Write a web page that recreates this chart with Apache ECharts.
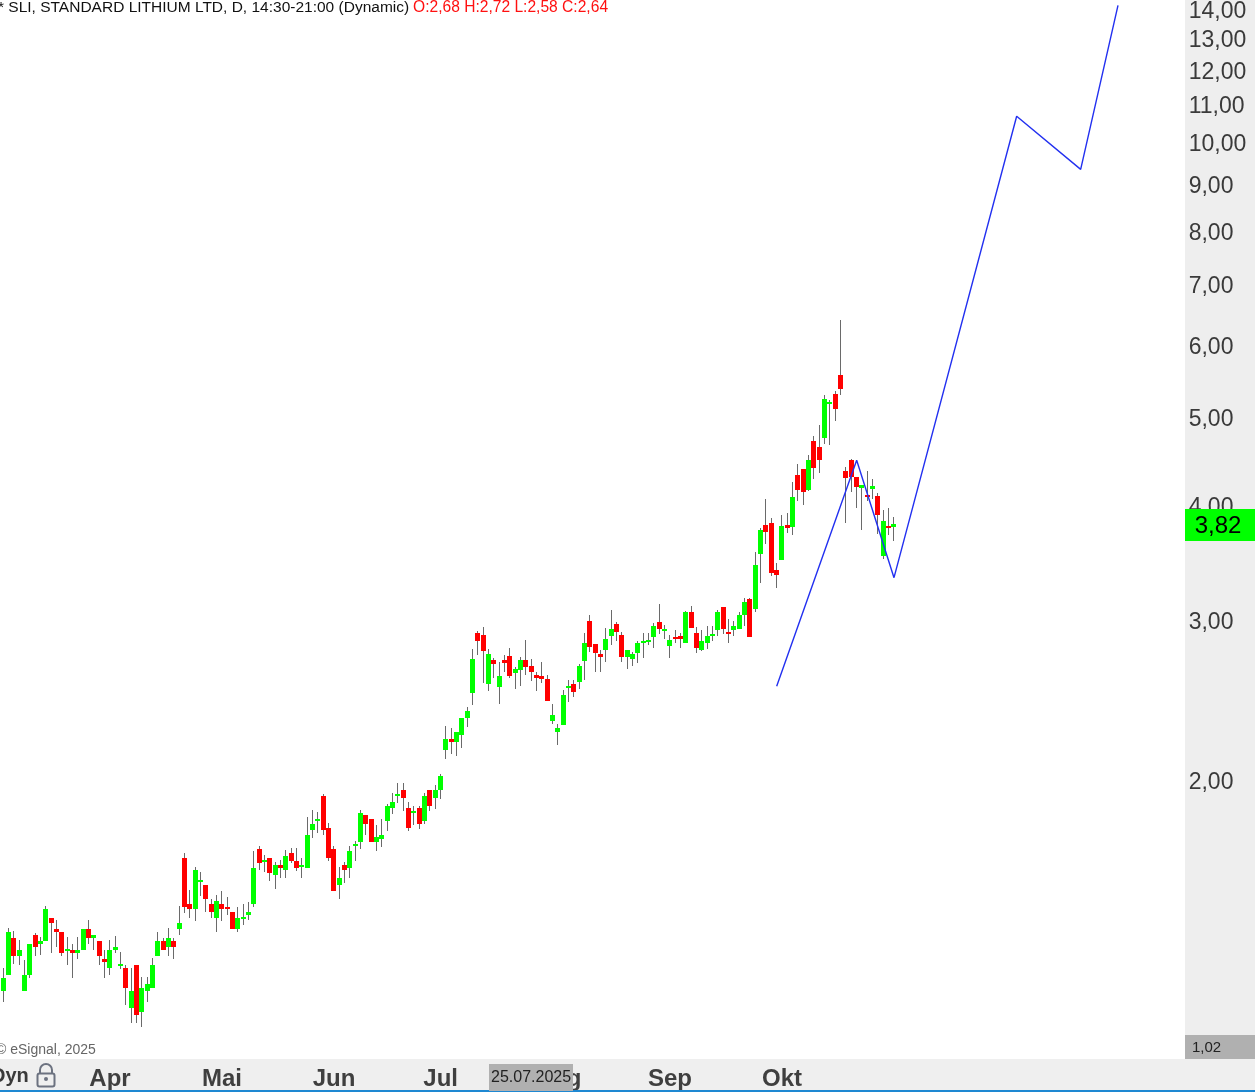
<!DOCTYPE html>
<html><head><meta charset="utf-8">
<style>html,body{margin:0;padding:0;background:#fff;overflow:hidden}#c{width:1255px;height:1092px}</style>
<script src="https://cdn.jsdelivr.net/npm/echarts@6/dist/echarts.min.js"></script>
</head><body><div id="c"></div>
<script>
const opens=[1.296,1.178,1.226,1.346,1.287,1.178,1.226,1.356,1.326,1.336,1.416,1.377,1.367,1.303,1.306,1.296,1.306,1.377,1.346,1.336,1.277,1.248,1.306,1.254,1.248,1.128,1.258,1.117,1.178,1.187,1.287,1.336,1.316,1.336,1.377,1.647,1.467,1.448,1.550,1.538,1.467,1.416,1.467,1.455,1.437,1.377,1.412,1.426,1.467,1.685,1.631,1.647,1.578,1.618,1.598,1.668,1.635,1.610,1.606,1.767,1.808,1.925,1.776,1.685,1.538,1.618,1.606,1.697,1.715,1.835,1.817,1.715,1.728,1.808,1.868,1.925,1.955,1.868,1.845,1.868,1.808,1.955,1.916,1.955,2.163,2.223,2.207,2.246,2.344,2.497,2.904,2.890,2.554,2.713,2.535,2.713,2.740,2.625,2.646,2.713,2.673,2.612,2.606,2.586,2.327,2.263,2.304,2.528,2.554,2.567,2.706,2.994,2.825,2.754,2.783,2.883,2.971,2.890,2.733,2.720,2.761,2.832,2.839,2.876,2.986,2.919,2.811,2.876,2.883,2.832,3.062,2.904,2.783,2.832,2.883,2.926,3.101,2.912,2.926,2.934,3.039,3.164,3.085,3.544,3.813,3.832,3.404,3.491,3.813,3.794,4.325,4.391,4.165,4.712,4.641,4.748,5.172,5.304,5.565,4.369,4.492,4.304,4.186,4.112,4.175,4.102,3.525,3.803,3.794];
const highs=[1.316,1.248,1.381,1.370,1.339,1.274,1.326,1.363,1.349,1.459,1.416,1.409,1.367,1.349,1.326,1.349,1.377,1.409,1.356,1.336,1.306,1.339,1.353,1.300,1.258,1.248,1.258,1.220,1.220,1.280,1.367,1.346,1.381,1.346,1.459,1.668,1.519,1.610,1.590,1.538,1.485,1.500,1.515,1.493,1.437,1.455,1.467,1.474,1.676,1.697,1.660,1.647,1.631,1.639,1.680,1.689,1.689,1.647,1.826,1.859,1.849,1.935,1.799,1.697,1.610,1.631,1.697,1.719,1.859,1.835,1.817,1.790,1.817,1.887,1.940,1.990,1.990,1.897,1.878,1.878,1.940,1.955,1.980,2.035,2.298,2.286,2.263,2.344,2.410,2.790,2.919,2.949,2.790,2.727,2.700,2.747,2.797,2.666,2.733,2.854,2.720,2.632,2.700,2.612,2.429,2.310,2.516,2.580,2.580,2.686,2.904,3.039,2.825,2.783,2.941,3.078,2.986,2.912,2.783,2.768,2.846,2.904,2.904,2.979,3.124,2.964,2.890,2.926,2.904,3.070,3.109,2.949,2.926,2.956,2.956,3.078,3.101,3.009,2.994,3.062,3.173,3.173,3.562,3.784,4.071,3.881,3.464,3.910,3.930,4.249,4.446,4.391,4.548,4.772,4.906,5.291,5.225,5.344,6.393,4.413,4.503,4.304,4.218,4.369,4.282,4.133,3.960,3.980,3.890];
const lows=[1.190,1.145,1.226,1.261,1.258,1.178,1.217,1.287,1.290,1.336,1.296,1.316,1.287,1.258,1.217,1.277,1.306,1.326,1.306,1.258,1.217,1.226,1.296,1.245,1.137,1.087,1.087,1.076,1.145,1.187,1.287,1.306,1.287,1.277,1.356,1.433,1.416,1.405,1.496,1.437,1.416,1.367,1.405,1.426,1.377,1.367,1.391,1.409,1.455,1.598,1.590,1.554,1.523,1.566,1.566,1.626,1.594,1.566,1.606,1.732,1.754,1.745,1.635,1.515,1.485,1.546,1.566,1.635,1.685,1.745,1.715,1.676,1.693,1.763,1.840,1.892,1.854,1.763,1.790,1.772,1.794,1.854,1.863,1.911,2.114,2.141,2.130,2.174,2.292,2.423,2.747,2.560,2.509,2.593,2.429,2.632,2.593,2.522,2.541,2.612,2.573,2.509,2.560,2.447,2.310,2.190,2.304,2.441,2.472,2.522,2.580,2.768,2.632,2.632,2.700,2.818,2.846,2.700,2.652,2.673,2.693,2.727,2.818,2.797,2.897,2.861,2.727,2.832,2.797,2.832,2.941,2.761,2.775,2.790,2.846,2.883,2.897,2.832,2.883,2.934,2.956,2.876,3.062,3.294,3.634,3.353,3.253,3.491,3.737,3.719,4.050,4.009,4.154,4.282,4.346,4.677,4.665,4.955,5.291,3.832,4.144,3.980,3.765,4.050,4.071,3.728,3.500,3.719,3.662];
const closes=[1.199,1.217,1.367,1.287,1.306,1.226,1.326,1.316,1.336,1.448,1.398,1.367,1.296,1.309,1.296,1.306,1.377,1.346,1.356,1.287,1.267,1.306,1.316,1.261,1.187,1.178,1.108,1.187,1.199,1.258,1.336,1.306,1.346,1.316,1.398,1.455,1.448,1.598,1.558,1.485,1.437,1.478,1.448,1.448,1.377,1.416,1.419,1.437,1.606,1.626,1.639,1.586,1.618,1.606,1.655,1.635,1.606,1.618,1.745,1.794,1.817,1.767,1.647,1.515,1.566,1.598,1.676,1.706,1.845,1.794,1.715,1.736,1.745,1.878,1.897,1.935,1.916,1.776,1.854,1.794,1.925,1.878,1.955,2.025,2.223,2.207,2.263,2.344,2.386,2.720,2.846,2.775,2.754,2.686,2.606,2.693,2.606,2.652,2.713,2.666,2.632,2.593,2.586,2.447,2.362,2.286,2.484,2.541,2.503,2.673,2.832,2.804,2.761,2.733,2.861,2.934,2.912,2.733,2.783,2.754,2.832,2.846,2.854,2.956,2.934,2.934,2.854,2.861,2.861,3.062,2.941,2.797,2.846,2.883,2.897,3.062,2.934,2.897,2.956,3.039,3.140,2.876,3.447,3.765,3.746,3.378,3.361,3.803,3.784,4.092,4.165,4.144,4.492,4.402,4.492,5.238,5.198,5.108,5.372,4.293,4.304,4.197,4.218,4.092,4.207,3.910,3.851,3.784,3.82];
const monthLabels=['Apr','Mai','Jun','Jul','Aug','Sep','Okt'];
const monthSlots=[21,42,63,83,105,126,147];
const priceTicks=[14,13,12,11,10,9,8,7,6,5,4,3,2];
const forecastX=[146,161,168,191,203,210];
const forecastY=[2.54,4.49,3.34,10.69,9.35,14.14];
const lastClose=3.82, axisLow=1.02, slotCount=223;

const categories=[];
for(let i=0;i<slotCount;i++){const m=monthSlots.indexOf(i);categories.push(m>=0?monthLabels[m]:'');}
const fmt=v=>Number(v).toFixed(2).replace('.',',');
const UP='#00ff00',DOWN='#ff0000',WICK='#6a6a6a',FONT='"Liberation Sans",Arial,sans-serif';
const candles=opens.map((o,i)=>[i,o,highs[i],lows[i],closes[i]]);

const chart=echarts.init(document.getElementById('c'),null,{renderer:'canvas'});
chart.setOption({
 animation:false,
 backgroundColor:'#fff',
 grid:{left:-4.667,width:1189.333,top:0,height:1059,containLabel:false,outerBoundsMode:'none'},
 xAxis:{type:'category',data:categories,boundaryGap:true,
  axisLine:{show:false},axisTick:{show:false},splitLine:{show:false},
  axisLabel:{interval:(i)=>monthSlots.includes(i),margin:8,hideOverlap:false,
   fontFamily:FONT,fontSize:24,fontWeight:'bold',color:'#3f3f3f'}},
 yAxis:{type:'log',position:'right',min:0.9925,max:14.33,
  axisLine:{show:false},axisTick:{show:false},splitLine:{show:false},minorTick:{show:false},
  axisLabel:{customValues:priceTicks,formatter:fmt,margin:4,verticalAlign:'top',lineHeight:4,fontFamily:FONT,fontSize:23,color:'#3a3a3a',hideOverlap:false,showMinLabel:true,showMaxLabel:true}},
 series:[
  {type:'custom',name:'SLI',coordinateSystem:'cartesian2d',encode:{x:0,y:[1,2,3,4]},data:candles,z:3,silent:true,
   renderItem(p,api){
    const i=api.value(0),o=api.value(1),h=api.value(2),l=api.value(3),c=api.value(4);
    const cx=api.coord([i,o])[0];
    const yo=Math.round(api.coord([i,o])[1]),yc=Math.round(api.coord([i,c])[1]);
    const yh=Math.round(api.coord([i,h])[1]),yl=Math.round(api.coord([i,l])[1]);
    const bx=Math.round(cx-2.5),top=Math.min(yo,yc),bot=Math.max(yo,yc);
    return {type:'group',children:[
     {type:'rect',shape:{x:bx+2,y:yh,width:1,height:Math.max(yl-yh,1)},style:{fill:WICK}},
     {type:'rect',shape:{x:bx,y:top,width:5,height:Math.max(bot-top,2)},style:{fill:c>=o?UP:DOWN}}
    ]};
   }},
  {type:'line',name:'Forecast',data:forecastX.map((x,i)=>[x,forecastY[i]]),showSymbol:false,z:4,silent:true,
   lineStyle:{color:'#2230f0',width:1.4},clip:false},
  {type:'custom',name:'Last',coordinateSystem:'cartesian2d',encode:{x:0,y:1},data:[[slotCount-1,lastClose]],z:8,silent:true,clip:false,
   renderItem(p,api){
    const y=api.coord([api.value(0),api.value(1)])[1];
    return {type:'group',children:[
     {type:'rect',shape:{x:1185,y:Math.round(y)-15,width:70,height:32},style:{fill:'#00ff00'}},
     {type:'text',style:{x:1218,y:y+2,text:fmt(api.value(1)),fill:'#000',font:'24px '+FONT,align:'center',verticalAlign:'middle'}}
    ]};
   }},
  {type:'custom',name:'Low',coordinateSystem:'cartesian2d',encode:{x:0,y:1},data:[[slotCount-1,axisLow]],z:8,silent:true,clip:false,
   renderItem(p,api){
    const y=api.coord([api.value(0),api.value(1)])[1];
    return {type:'group',children:[
     {type:'rect',shape:{x:1185,y:1035,width:70,height:24},style:{fill:'#b0b0b0'}},
     {type:'text',style:{x:1192,y:1048,text:fmt(api.value(1)),fill:'#222',font:'15px '+FONT,align:'left',verticalAlign:'middle'}}
    ]};
   }}
 ],
 graphic:{elements:[
  {type:'rect',z:-10,shape:{x:1185,y:0,width:70,height:1092},style:{fill:'#eeeeee'},silent:true},
  {type:'rect',z:-10,shape:{x:0,y:1059,width:1255,height:33},style:{fill:'#efefef'},silent:true},
  {type:'rect',z:20,shape:{x:0,y:1090,width:1255,height:2},style:{fill:'#1e88d2'},silent:true},
  {type:'text',z:20,silent:true,style:{x:-2,y:8,text:'* SLI, STANDARD LITHIUM LTD, D, 14:30-21:00 (Dynamic)',fill:'#111',font:'15.5px '+FONT,verticalAlign:'middle'}},
  {type:'text',z:20,silent:true,style:{x:413,y:8,text:'O:2,68 H:2,72 L:2,58 C:2,64',fill:'#ff1010',font:'15.6px '+FONT,verticalAlign:'middle'}},
  {type:'text',z:20,silent:true,style:{x:-4,y:1050,text:'© eSignal, 2025',fill:'#666',font:'14px '+FONT,verticalAlign:'middle'}},
  {type:'text',z:20,silent:true,style:{x:-9,y:1076,text:'Dyn',fill:'#3a3a3a',font:'bold 20px '+FONT,verticalAlign:'middle'}},
  {type:'rect',z:20,silent:true,shape:{x:37.5,y:1073.5,width:17,height:13,r:2},style:{fill:'none',stroke:'#6c7280',lineWidth:2}},
  {type:'arc',z:20,silent:true,shape:{cx:46,cy:1070,r:6,startAngle:Math.PI,endAngle:0,clockwise:true},style:{fill:'none',stroke:'#6c7280',lineWidth:2}},
  {type:'line',z:20,silent:true,shape:{x1:40,y1:1070,x2:40,y2:1073},style:{stroke:'#6c7280',lineWidth:2}},
  {type:'line',z:20,silent:true,shape:{x1:52,y1:1070,x2:52,y2:1073},style:{stroke:'#6c7280',lineWidth:2}},
  {type:'circle',z:20,silent:true,shape:{cx:46,cy:1079,r:2},style:{fill:'#6c7280'}},
  {type:'rect',z:30,silent:true,shape:{x:489,y:1064,width:84,height:27},style:{fill:'#b0b0b0'}},
  {type:'text',z:31,silent:true,style:{x:491,y:1078,text:'25.07.2025',fill:'#222',font:'16px '+FONT,verticalAlign:'middle'}}
 ]}
});
</script></body></html>
